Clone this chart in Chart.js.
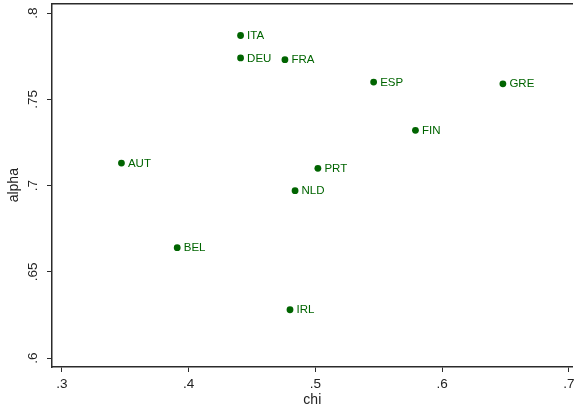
<!DOCTYPE html>
<html>
<head>
<meta charset="utf-8">
<script src="https://cdn.jsdelivr.net/npm/chart.js@4"></script>
<style>
  html, body { margin: 0; padding: 0; background: #fff; }
  #wrap { width: 576px; height: 408px; }
</style>
</head>
<body>
<div id="wrap"><canvas id="myChart" width="576" height="408"></canvas></div>
<script>
// countries and their (chi, alpha) values
var countries = ['ITA', 'DEU', 'FRA', 'ESP', 'GRE', 'FIN', 'AUT', 'PRT', 'NLD', 'BEL', 'IRL'];
var chi   = [0.441, 0.441, 0.476, 0.546, 0.648, 0.579, 0.347, 0.502, 0.484, 0.391, 0.480];
var alpha = [0.787, 0.774, 0.773, 0.760, 0.759, 0.732, 0.713, 0.710, 0.697, 0.664, 0.628];

var xTicks = [0.3, 0.4, 0.5, 0.6, 0.7];
var xTickLabels = ['.3', '.4', '.5', '.6', '.7'];
var yTicks = [0.6, 0.65, 0.7, 0.75, 0.8];
var yTickLabels = ['.6', '.65', '.7', '.75', '.8'];

var green = '#006400';
var axisColor = '#2b2b2b';
var fontFamily = '"Liberation Sans", Arial, Helvetica, sans-serif';

var points = countries.map(function (c, i) {
    return { x: chi[i], y: alpha[i], label: c };
});

// marker labels to the right of each point (like mlabel in Stata)
var markerLabels = {
    id: 'markerLabels',
    afterDatasetsDraw: function (chart) {
        var ctx = chart.ctx;
        var meta = chart.getDatasetMeta(0);
        ctx.save();
        ctx.fillStyle = green;
        ctx.font = '11.5px ' + fontFamily;
        ctx.textAlign = 'left';
        ctx.textBaseline = 'middle';
        meta.data.forEach(function (pt, i) {
            ctx.fillText(countries[i], pt.x + 6.5, pt.y + 0.5);
        });
        ctx.restore();
    }
};

// vertical tick labels on the y axis
var yLabels = {
    id: 'yLabels',
    afterDraw: function (chart) {
        var ctx = chart.ctx;
        var scale = chart.scales.y;
        ctx.save();
        ctx.fillStyle = '#222';
        ctx.font = '13.5px ' + fontFamily;
        ctx.textAlign = 'center';
        ctx.textBaseline = 'middle';
        yTicks.forEach(function (v, i) {
            var py = scale.getPixelForValue(v);
            ctx.save();
            ctx.translate(scale.right - 19, py);
            ctx.rotate(-Math.PI / 2);
            ctx.fillText(yTickLabels[i], 0, 0);
            ctx.restore();
        });
        ctx.restore();
    }
};

var ctx = document.getElementById('myChart').getContext('2d');

var myChart = new Chart(ctx, {
    type: 'scatter',
    data: {
        datasets: [
            {
                label: 'alpha',
                data: points,
                backgroundColor: green,
                borderColor: green,
                borderWidth: 0,
                pointRadius: 3.4,
                pointHoverRadius: 3.4,
            }
        ]
    },
    options: {
        responsive: false,
        animation: false,
        devicePixelRatio: 1,
        layout: { padding: { top: 3, right: 0, left: 0, bottom: 0 } },
        plugins: {
            legend: { display: false },
            tooltip: { enabled: false },
        },
        scales: {
            x: {
                type: 'linear',
                position: 'bottom',
                min: 0.2922,
                max: 0.703,
                afterBuildTicks: function (scale) {
                    scale.ticks = xTicks.map(function (v) { return { value: v }; });
                },
                afterFit: function (scale) {
                    scale.height = 41;
                    scale.paddingRight = 0;
                    scale.paddingLeft = 0;
                },
                ticks: {
                    color: '#222',
                    font: { family: fontFamily, size: 13.5 },
                    padding: 4,
                    maxRotation: 0,
                    callback: function (v) {
                        var i = xTicks.indexOf(v);
                        return i >= 0 ? xTickLabels[i] : '';
                    }
                },
                grid: {
                    display: true,
                    drawOnChartArea: false,
                    drawTicks: true,
                    tickLength: 5,
                    color: axisColor,
                    lineWidth: 1,
                },
                border: { display: true, color: axisColor, width: 1.5 },
                title: {
                    display: true,
                    text: 'chi',
                    color: '#222',
                    font: { family: fontFamily, size: 14 },
                    padding: { top: 0, bottom: -1 },
                }
            },
            x2: {
                type: 'linear',
                position: 'top',
                display: true,
                min: 0.2922,
                max: 0.703,
                afterFit: function (scale) {
                    scale.height = 0;
                    scale.paddingRight = 0;
                    scale.paddingLeft = 0;
                },
                ticks: { display: false },
                grid: { display: false, drawTicks: false },
                border: { display: true, color: axisColor, width: 1.5 },
            },
            y: {
                type: 'linear',
                position: 'left',
                min: 0.5948,
                max: 0.8056,
                afterBuildTicks: function (scale) {
                    scale.ticks = yTicks.map(function (v) { return { value: v }; });
                },
                afterFit: function (scale) {
                    scale.width = 52;
                },
                ticks: { display: false },
                grid: {
                    display: true,
                    drawOnChartArea: false,
                    drawTicks: true,
                    tickLength: 5,
                    color: axisColor,
                    lineWidth: 1,
                },
                border: { display: true, color: axisColor, width: 1.5 },
                title: {
                    display: true,
                    text: 'alpha',
                    color: '#222',
                    font: { family: fontFamily, size: 14 },
                    padding: { top: 6, bottom: 0 },
                }
            }
        }
    },
    plugins: [markerLabels, yLabels]
});
</script>
</body>
</html>
